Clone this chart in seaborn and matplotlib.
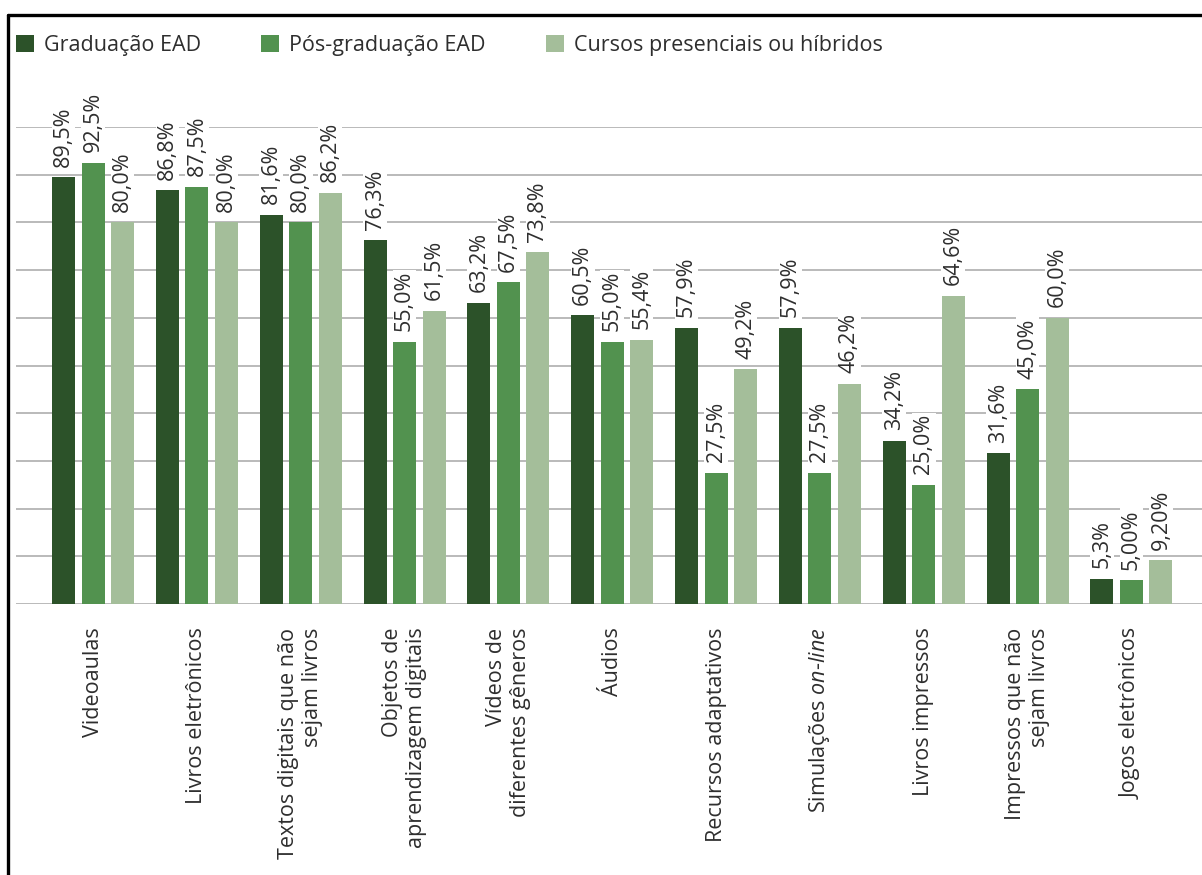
import matplotlib
matplotlib.use("Agg")
import matplotlib.pyplot as plt
from matplotlib.patches import Patch
from matplotlib.lines import Line2D
import pandas as pd
import seaborn as sns

# Resource categories (x axis)
categories = [
    "Videoaulas",
    "Livros eletrônicos",
    "Textos digitais que não\nsejam livros",
    "Objetos de\naprendizagem digitais",
    "Vídeos de\ndiferentes gêneros",
    "Áudios",
    "Recursos adaptativos",
    "Simulações $\\mathit{on}$-$\\mathit{line}$",
    "Livros impressos",
    "Impressos que não\nsejam livros",
    "Jogos eletrônicos",
]

series_names = ["Graduação EAD", "Pós-graduação EAD", "Cursos presenciais ou híbridos"]

graduacao_ead = [89.5, 86.8, 81.6, 76.3, 63.2, 60.5, 57.9, 57.9, 34.2, 31.6, 5.3]
pos_graduacao_ead = [92.5, 87.5, 80.0, 55.0, 67.5, 55.0, 27.5, 27.5, 25.0, 45.0, 5.0]
presenciais_hibridos = [80.0, 80.0, 86.2, 61.5, 73.8, 55.4, 49.2, 46.2, 64.6, 60.0, 9.2]

# decimals shown in each value label
graduacao_dec = [1] * 11
pos_graduacao_dec = [1] * 10 + [2]
presenciais_dec = [1] * 10 + [2]

colors = ["#2c5229", "#52924f", "#a4be9a"]
text_color = "#2e2e2e"
grid_color = "#b4b4b4"

sns.set_theme(style="white")
plt.rcParams["font.family"] = ["Open Sans", "Noto Sans", "DejaVu Sans"]
plt.rcParams["mathtext.fontset"] = "custom"
plt.rcParams["mathtext.rm"] = "Open Sans"
plt.rcParams["mathtext.it"] = "Open Sans:italic"

all_values = [graduacao_ead, pos_graduacao_ead, presenciais_hibridos]
all_decs = [graduacao_dec, pos_graduacao_dec, presenciais_dec]

rows = []
for name, vals in zip(series_names, all_values):
    for cat, v in zip(categories, vals):
        rows.append({"categoria": cat, "serie": name, "valor": v})
df = pd.DataFrame(rows)

fig = plt.figure(figsize=(12.02, 8.75), dpi=100)
ax = fig.add_axes([16 / 1202, (875 - 604) / 875, 1 - 16 / 1202, (604 - 127) / 875])

sns.barplot(
    data=df, x="categoria", y="valor", hue="serie",
    order=categories, hue_order=series_names,
    palette=colors, width=0.852, gap=0.22,
    saturation=1, linewidth=0, legend=False, ax=ax,
)

ax.set_xlim(-0.742, 10.68)
ax.set_ylim(0, 100)
ax.set_yticks(range(0, 101, 10))
ax.set_yticklabels([])
ax.yaxis.grid(True, color=grid_color, linewidth=1.3)
ax.set_axisbelow(True)
ax.tick_params(axis="both", length=0)
ax.tick_params(axis="x", pad=17)
for s in ax.spines.values():
    s.set_visible(False)
ax.set_xlabel("")
ax.set_ylabel("")

ax.set_xticks(range(len(categories)))
ax.set_xticklabels(categories, rotation=90, ha="center", va="top",
                   fontsize=15.5, color=text_color, multialignment="right")

# value labels above bars
for container, vals, decs in zip(ax.containers, all_values, all_decs):
    for bar, v, d in zip(container, vals, decs):
        label = f"{v:.{d}f}".replace(".", ",") + "%"
        ax.annotate(
            label,
            xy=(bar.get_x() + bar.get_width() / 2, bar.get_height()),
            xytext=(0, 7.5), textcoords="offset points",
            rotation=90, ha="center", va="bottom",
            fontsize=15.5, color=text_color, annotation_clip=False,
            bbox=dict(facecolor="white", edgecolor="none", pad=1.0),
        )

# legend with square markers
handles = [Patch(facecolor=c, edgecolor="none") for c in colors]
fig.legend(
    handles, series_names, loc="upper left",
    bbox_to_anchor=(5 / 1202, 1 - 24 / 875), ncol=3, frameon=False,
    fontsize=15.5, labelcolor=text_color, borderpad=0,
    handlelength=0.85, handleheight=0.85, handletextpad=0.45,
    columnspacing=2.8,
)

# partial frame around the chart
fig.add_artist(Line2D([8 / 1202, 1], [1 - 15 / 875, 1 - 15 / 875],
                      color="black", linewidth=2.4, transform=fig.transFigure))
fig.add_artist(Line2D([8 / 1202, 8 / 1202], [0, 1 - 15 / 875],
                      color="black", linewidth=2.4, transform=fig.transFigure))

fig.savefig("out.png", dpi=100, facecolor="white")
